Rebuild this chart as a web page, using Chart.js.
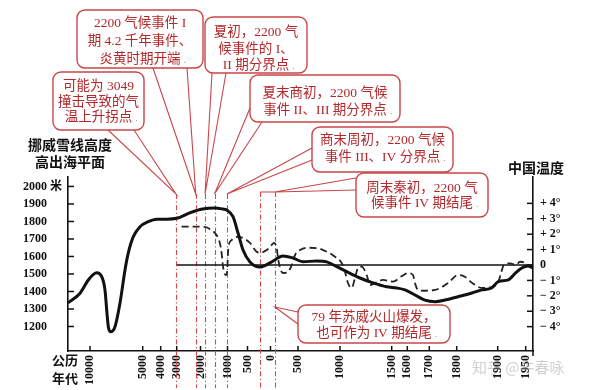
<!DOCTYPE html>
<html><head><meta charset="utf-8">
<script src="https://cdn.jsdelivr.net/npm/chart.js@4/dist/chart.umd.min.js"></script>
<style>html,body{margin:0;padding:0;background:#fff}#wrap{width:600px;height:390px;position:relative}</style>
</head><body><div id="wrap"><canvas id="c" width="600" height="390"></canvas></div>
<script>
// ---------------- DATA ----------------
const xTickYears  = [-10000,-5000,-4000,-3000,-2000,-1000,-500,0,500,1000,1500,1600,1700,1800,1900,1950];
const xTickLabels = ['10000','5000','4000','3000','2000','1000','500','0','500','1000','1500','1600','1700','1800','1900','1950'];
const heightTicks = [1200,1300,1400,1500,1600,1700,1800,1900,2000];
const tempTicks = [-4,-3,-2,-1,0,1,2,3,4];
const tempTickLabels = ['− 4°','− 3°','− 2°','− 1°','0','+ 1°','+ 2°','+ 3°','+ 4°'];

// Norway snow-line height (m above sea level)
const norwayYears = [-12100,-10950,-10160,-9360,-8890,-8580,-8415,-8263,-8036,-7628,-7153,-6678,-6365,-5890,-5256,-4689,-4222,-3625,-3000,-2453,-1925,-1472,-1170,-1030,-862,-737,-612,-446,-229,-11,228,410,560,723,842,961,1065,1193,1319,1452,1532,1585,1635,1680,1721,1757,1803,1837,1861,1885,1901,1919,1932,1943,1954,1963];
const norwayHeights = [1335,1390,1466,1507,1485,1409,1294,1199,1170,1199,1334,1523,1620,1713,1770,1799,1813,1813,1818,1849,1871,1877,1871,1866,1827,1734,1637,1569,1540,1563,1603,1591,1570,1574,1569,1542,1513,1477,1449,1427,1420,1409,1380,1351,1342,1351,1370,1391,1409,1420,1456,1466,1506,1534,1546,1534];

// China temperature anomaly (°C)
const chinaYears = [-2794,-2329,-1849,-1597,-1408,-1283,-1219,-1182,-1132,-1057,-1008,-992,-975,-895,-770,-612,-446,-300,-229,-82,22,64,113,137,173,228,319,386,446,524,603,723,842,940,1016,1048,1077,1113,1145,1174,1210,1258,1290,1339,1416,1508,1566,1603,1626,1635,1649,1680,1721,1769,1803,1820,1838,1862,1886,1901,1906,1910,1913,1922,1932,1940,1947,1954];
const chinaTemps = [2.49,2.49,2.47,2.27,1.95,1.43,0.78,0.13,-0.44,-0.65,-0.32,0.54,1.19,1.62,1.82,1.75,1.43,0.86,0.80,0.97,1.30,1.43,1.10,0.45,-0.19,-0.52,-0.45,0,0.65,0.97,1.12,1.10,0.86,0.54,0.13,-0.44,-1.17,-1.49,-0.84,-0.19,-0.11,-0.65,-1.30,-1.17,-0.97,-1.08,-0.71,-0.52,-0.65,-1.17,-1.62,-1.67,-1.62,-1.17,-0.65,-0.76,-1.17,-1.49,-1.41,-1.10,-0.52,-0.06,0.06,0.11,0,0.21,0.16,-0.06];

const baselineYears = [-3000, 1963];
const baselineTemps = [0, 0];

// event marker years (red dash-dot lines)
const eventYears = [-3049,-2200,-1830,-1480,-1020,-221,79];

const calloutTexts = [
  ['2200 气候事件 I','期 4.2 千年事件、','炎黄时期开端'],
  ['可能为 3049','撞击导致的气','温上升拐点'],
  ['夏初，2200 气','候事件的 I、','II 期分界点'],
  ['夏末商初，2200 气候','事件 II、III 期分界点'],
  ['商末周初，2200 气候','事件 III、IV 分界点'],
  ['周末秦初，2200 气','候事件 IV 期结尾'],
  ['79 年苏威火山爆发，','也可作为 IV 期结尾']
];
const leftTitle = ['挪威雪线高度','高出海平面'];
const rightTitle = '中国温度';
const xTitle = ['公历','年代'];
const watermark = '知乎 @牛春咏';

// ---------------- LAYOUT (not data) ----------------
// nonlinear time axis: [year, pixel offset from plot left], plot width 465
const X_ANCHORS = [[-12100,0],[-10000,22],[-5000,74.7],[-4000,92.7],[-3000,108.7],[-2000,132.5],[-1000,159.5],[-500,179.5],[0,202.5],[500,230],[1000,272],[1500,323.7],[1600,339.3],[1700,361.3],[1800,388.7],[1900,429.7],[1950,457.7],[1963,465]];
const X_SPAN = 465;
const CALLOUTS = [
  {x:77, y:10, w:126,h:58, ly:[23,41.5,59], ev:1, ty:194, base:[[153,68],[187,68]]},
  {x:53, y:72, w:91, h:58, ly:[86,102,117], ev:0, ty:194, base:[[108,130],[134,130]]},
  {x:205,y:17, w:102,h:56, ly:[32,49.5,65], ev:2, ty:194, base:[[212,73],[226,73]]},
  {x:250,y:75, w:150,h:47, ly:[93,110], ev:3, ty:194, base:[[250,108],[262,122]]},
  {x:312,y:127,w:141,h:45, ly:[140,157], ev:4, ty:194, base:[[312,148],[312,160]]},
  {x:356,y:173,w:132,h:44, ly:[188,203], ev:6, ty:192, base:[[356,178],[356,190]]},
  {x:298,y:305,w:152,h:38, ly:[317,333], ev:6, ty:307, base:[[298,312],[298,324]]}
];

function yearToFrac(v){
  const A = X_ANCHORS;
  if (v <= A[0][0]) return A[0][1]/X_SPAN;
  for (let i=1;i<A.length;i++){
    if (v <= A[i][0]){
      const t=(v-A[i-1][0])/(A[i][0]-A[i-1][0]);
      return (A[i-1][1]+t*(A[i][1]-A[i-1][1]))/X_SPAN;
    }
  }
  return A[A.length-1][1]/X_SPAN;
}
function fracToYear(f){
  const A = X_ANCHORS, p=f*X_SPAN;
  for (let i=1;i<A.length;i++){
    if (p <= A[i][1]){
      const t=(p-A[i-1][1])/(A[i][1]-A[i-1][1]);
      return A[i-1][0]+t*(A[i][0]-A[i-1][0]);
    }
  }
  return A[A.length-1][0];
}

class PiecewiseScale extends Chart.LinearScale {
  determineDataLimits(){ this.min = X_ANCHORS[0][0]; this.max = X_ANCHORS[X_ANCHORS.length-1][0]; }
  buildTicks(){ return xTickYears.map(v=>({value:v})); }
  getPixelForValue(v){ return this.getPixelForDecimal(yearToFrac(v)); }
  getValueForPixel(p){ return fracToYear(this.getDecimalForPixel(p)); }
}
PiecewiseScale.id = 'piecewise';
PiecewiseScale.defaults = {};
Chart.register(PiecewiseScale);

const pts = (xs, ys) => xs.map((x,i)=>({x, y: ys[i]}));
const SERIF = "'Liberation Serif', 'Noto Sans CJK SC', serif";
const RED_LINE = '#d8474a', RED_BOX = '#c9464a', RED_TEXT = '#b3282b';

function line(ctx,x1,y1,x2,y2){ctx.beginPath();ctx.moveTo(x1,y1);ctx.lineTo(x2,y2);ctx.stroke();}
function rrect(ctx,x,y,w,h,r){ctx.beginPath();ctx.moveTo(x+r,y);ctx.arcTo(x+w,y,x+w,y+h,r);ctx.arcTo(x+w,y+h,x,y+h,r);ctx.arcTo(x,y+h,x,y,r);ctx.arcTo(x,y,x+w,y,r);ctx.closePath();}

const decor = {
  id:'decor',
  beforeDatasetsDraw(chart){
    const ctx = chart.ctx, xs = chart.scales.x;
    ctx.save();
    ctx.strokeStyle = RED_LINE; ctx.lineWidth = 1.1; ctx.setLineDash([5,2.5,1.2,2.5]);
    eventYears.forEach((yr,i)=>{
      const px = Math.round(xs.getPixelForValue(yr))+0.5;
      line(ctx, px, i>=5?192:194, px, 388);
    });
    ctx.setLineDash([]);
    // connector between the last two event lines
    line(ctx, xs.getPixelForValue(eventYears[5]), 192, xs.getPixelForValue(eventYears[6]), 192);
    ctx.restore();
  },
  afterDatasetsDraw(chart){
    const ctx = chart.ctx, ca = chart.chartArea;
    const xs = chart.scales.x, yl = chart.scales.yH, yr = chart.scales.yT;
    ctx.save();
    // inner tick marks
    ctx.strokeStyle = '#111'; ctx.lineWidth = 1.5;
    yl.ticks.forEach(t=>{ const p = yl.getPixelForValue(t.value); line(ctx, ca.left, p, ca.left+6, p); });
    yr.ticks.forEach(t=>{ const p = yr.getPixelForValue(t.value); line(ctx, ca.right-6, p, ca.right, p); });
    xs.ticks.forEach(t=>{ const p = xs.getPixelForValue(t.value); line(ctx, p, ca.bottom-5, p, ca.bottom); });
    line(ctx, ca.right, ca.bottom, ca.right, ca.bottom+5);
    // titles
    ctx.fillStyle = '#111'; ctx.textBaseline = 'middle'; ctx.textAlign = 'center';
    ctx.font = "bold 14px 'Noto Sans CJK SC'";
    ctx.fillText(leftTitle[0], 70, 145);
    ctx.fillText(leftTitle[1], 70, 162);
    ctx.fillText(rightTitle, 536, 168);
    ctx.font = "bold 13px 'Noto Sans CJK SC'";
    ctx.fillText(xTitle[0], 65, 360);
    ctx.fillText(xTitle[1], 65, 378);
    // watermark
    ctx.fillStyle = 'rgba(150,150,150,0.45)';
    ctx.font = "15px 'Noto Sans CJK SC'"; ctx.textAlign = 'left';
    ctx.fillText(watermark, 472, 367);
    // callouts
    CALLOUTS.forEach((c,i)=>{
      const tx = xs.getPixelForValue(eventYears[c.ev]), ty = c.ty;
      ctx.lineWidth = 1.4; ctx.strokeStyle = RED_BOX; ctx.fillStyle = '#fff';
      rrect(ctx, c.x, c.y, c.w, c.h, 8); ctx.fill(); ctx.stroke();
      ctx.beginPath(); ctx.moveTo(c.base[0][0], c.base[0][1]); ctx.lineTo(tx, ty); ctx.lineTo(c.base[1][0], c.base[1][1]);
      ctx.lineWidth = 1.1; ctx.stroke();
      ctx.fillStyle = RED_TEXT; ctx.font = "13.5px " + SERIF; ctx.textAlign = 'center'; ctx.textBaseline = 'middle';
      const lines = calloutTexts[i];
      lines.forEach((s,k)=>{
        ctx.fillText(s, c.x + c.w/2, c.ly[k]);
      });
      const last = lines[lines.length-1];
      const w = ctx.measureText(last).width;
      ctx.fillStyle = '#9a9a9a'; ctx.font = "10px " + SERIF; ctx.textAlign='left';
      ctx.fillText('.', c.x + c.w/2 + w/2 + 3, c.ly[lines.length-1]+1);
    });
    ctx.restore();
  }
};

const tickFont = {family: SERIF, size: 12, weight: 'bold'};

new Chart(document.getElementById('c'), {
  type: 'line',
  data: {
    datasets: [
      {label:'挪威雪线高度', data: pts(norwayYears, norwayHeights), yAxisID:'yH', borderColor:'#111', borderWidth:3, pointRadius:0, cubicInterpolationMode:'monotone', fill:false},
      {label:'中国温度', data: pts(chinaYears, chinaTemps), yAxisID:'yT', borderColor:'#222', borderWidth:1.8, borderDash:[7,4], pointRadius:0, cubicInterpolationMode:'monotone', fill:false},
      {label:'0', data: pts(baselineYears, baselineTemps), yAxisID:'yT', borderColor:'#111', borderWidth:1.6, pointRadius:0, fill:false}
    ]
  },
  options: {
    responsive:false, animation:false, devicePixelRatio:1,
    layout:{padding:{left:23, top:177, right:0, bottom:0}},
    plugins:{legend:{display:false}, tooltip:{enabled:false}},
    scales:{
      x:{type:'piecewise', position:'bottom',
         grid:{display:false, drawTicks:false}, border:{display:true, color:'#111', width:1.6},
         ticks:{autoSkip:false, minRotation:90, maxRotation:90, padding:4, color:'#111', font:tickFont,
                callback:(v,i)=>xTickLabels[i]},
         afterFit:s=>{s.height=39;}},
      yH:{type:'linear', position:'left', min:1060, max:2054,
         grid:{display:false, drawTicks:false}, border:{display:true, color:'#111', width:1.6},
         afterBuildTicks:s=>{s.ticks = heightTicks.map(v=>({value:v}));},
         ticks:{crossAlign:'far', padding:4, color:'#111', font:tickFont,
                callback:v=> v===2000 ? '2000 米' : String(v)},
         afterFit:s=>{s.width=45;}},
      yT:{type:'linear', position:'right', min:-5.58, max:5.71,
         grid:{display:false, drawTicks:false}, border:{display:true, color:'#111', width:1.6},
         afterBuildTicks:s=>{s.ticks = tempTicks.map(v=>({value:v}));},
         ticks:{padding:7, color:'#111', font:tickFont,
                callback:v=> tempTickLabels[tempTicks.indexOf(v)]},
         afterFit:s=>{s.width=67;}}
    }
  },
  plugins:[decor]
});
</script></body></html>
